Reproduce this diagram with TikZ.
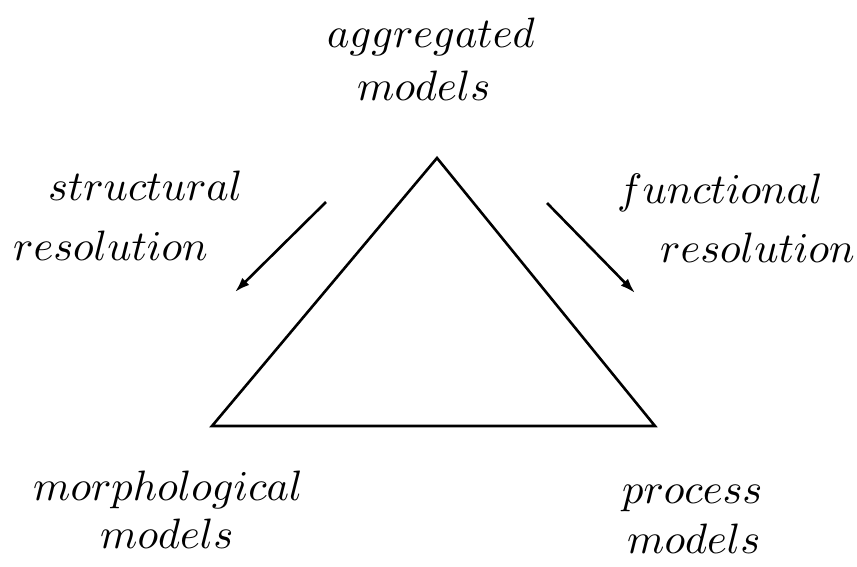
\documentclass[tikz,border=0pt]{standalone}
\usepackage{graphicx}
\usetikzlibrary{arrows.meta}
\newcommand{\biglbl}[1]{\scalebox{4.25}{$#1$}}
\begin{document}
\begin{tikzpicture}[x=1pt,y=-1pt,
  lbl/.style={anchor=base west,inner sep=0pt},
  edge/.style={line width=2.6pt,line join=miter},
  arr/.style={line width=2.6pt,-{Latex[length=15pt,width=10pt]}}]
\useasboundingbox (0,0) rectangle (857,566);
% triangle
\coordinate (top) at (437,158);
\coordinate (bl) at (212,426);
\coordinate (br) at (655,426);
\draw[edge] (top) -- (bl) -- (br) -- cycle;
% arrows
\coordinate (la) at (326,202);
\coordinate (lb) at (235,292);
\coordinate (ra) at (547,203);
\coordinate (rb) at (635,293);
\draw[arr] (la) -- (lb);
\draw[arr] (ra) -- (rb);
% labels
\node[lbl] (agg) at (327,47) {\biglbl{aggregated}};
\node[lbl] (aggm) at (357,100) {\biglbl{models}};
\node[lbl] (str) at (48,200) {\biglbl{structural}};
\node[lbl] (strr) at (13,260) {\biglbl{resolution}};
\node[lbl] (fun) at (617,203) {\biglbl{functional}};
\node[lbl] (funr) at (660,262) {\biglbl{resolution}};
\node[lbl] (mor) at (33,500) {\biglbl{morphological}};
\node[lbl] (morm) at (100,548) {\biglbl{models}};
\node[lbl] (pro) at (622,503) {\biglbl{process}};
\node[lbl] (prom) at (627,553) {\biglbl{models}};
\end{tikzpicture}
\end{document}
